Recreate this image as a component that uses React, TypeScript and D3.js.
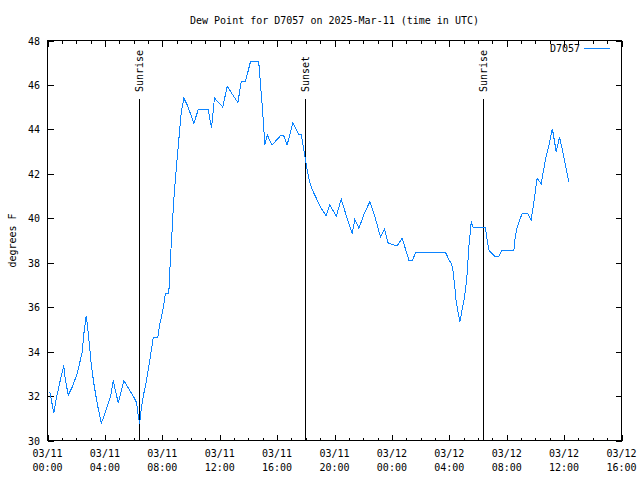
import React from "react";
import * as d3 from "d3";

// minutes since 2025-03-11 00:00 UTC
const minutesSinceStart = [
  10, 15, 26, 38, 50, 68, 75, 87, 103, 124, 145, 152, 162, 173, 183, 194, 208, 225,
  243, 263, 275, 284, 296, 305, 319, 336, 361, 372, 378, 385, 392, 403, 414, 424,
  434, 442, 461, 470, 482, 493, 507, 514, 521, 528, 538, 549, 559, 570, 584, 612,
  630, 672, 686, 698, 733, 751, 796, 810, 828, 849, 883, 898, 909, 919, 928, 939,
  974, 988, 1002, 1026, 1051, 1061, 1072, 1083, 1094, 1107, 1121, 1141, 1165, 1180,
  1194, 1208, 1228, 1246, 1274, 1285, 1302, 1325, 1348, 1367, 1392, 1409, 1423, 1448,
  1462, 1483, 1511, 1526, 1540, 1664, 1678, 1690, 1696, 1703, 1709, 1724, 1741, 1752,
  1763, 1772, 1780, 1831, 1838, 1847, 1873, 1887, 1901, 1950, 1955, 1964, 1985, 2008,
  2022, 2033, 2047, 2064, 2082, 2100, 2111, 2127, 2141, 2156, 2179,
];

const dewPointF = [
  32.17, 31.9, 31.23, 31.95, 32.55, 33.37, 32.7, 32.05, 32.4, 33.0, 33.97, 34.8, 35.62,
  34.57, 33.4, 32.55, 31.65, 30.78, 31.3, 31.95, 32.7, 32.25, 31.68, 32.1, 32.7, 32.4,
  31.95, 31.72, 31.23, 30.75, 31.43, 32.13, 32.7, 33.37, 34.05, 34.64, 34.64, 35.25,
  35.86, 36.6, 36.6, 38.2, 39.47, 40.83, 42.18, 43.53, 44.73, 45.41, 45.11, 44.28,
  44.88, 44.88, 44.06, 45.41, 45.0, 45.94, 45.21, 46.13, 46.16, 47.06, 47.06, 45.03,
  43.3, 43.76, 43.53, 43.3, 43.71, 43.71, 43.3, 44.31, 43.76, 43.76, 43.08, 42.33,
  41.73, 41.28, 40.97, 40.52, 40.1, 40.6, 40.35, 40.1, 40.86, 40.23, 39.3, 39.95,
  39.55, 40.23, 40.75, 40.15, 39.17, 39.5, 38.9, 38.8, 38.77, 39.1, 38.12, 38.12,
  38.47, 38.47, 38.15, 37.93, 37.6, 36.9, 36.24, 35.34, 36.3, 37.14, 38.87, 39.85,
  39.58, 39.58, 39.02, 38.54, 38.27, 38.27, 38.57, 38.57, 39.11, 39.62, 40.23, 40.23,
  39.92, 40.68, 41.8, 41.55, 42.63, 43.45, 44.03, 43.0, 43.65, 42.93, 41.65,
];

const sunEventMinutes = [382, 1075, 1821];
const sunEventLabels = ["Sunrise", "Sunset", "Sunrise"];

const xTickHours = [0, 4, 8, 12, 16, 20, 24, 28, 32, 36, 40];
const xTickDates = ["03/11", "03/11", "03/11", "03/11", "03/11", "03/11", "03/12", "03/12", "03/12", "03/12", "03/12"];
const xTickTimes = ["00:00", "04:00", "08:00", "12:00", "16:00", "20:00", "00:00", "04:00", "08:00", "12:00", "16:00"];
const yTicks = [30, 32, 34, 36, 38, 40, 42, 44, 46, 48];

const TITLE = "Dew Point for D7057 on 2025-Mar-11 (time in UTC)";
const SERIES_NAME = "D7057";
const Y_LABEL = "degrees F";

export default function App() {
  const W = 640, H = 480;
  const L = 47.5, R = 621.5, T = 40.5, B = 440.5;
  const font = "'DejaVu Sans Mono', 'Liberation Mono', monospace";
  const color = "#0c84ff";

  const x = d3.scaleLinear().domain([0, 40 * 60]).range([L, R]);
  const y = d3.scaleLinear().domain([30, 48]).range([B, T]);

  const line = d3
    .line<number>()
    .x((_, i) => x(minutesSinceStart[i]))
    .y((d) => y(d));

  const minorHours = d3.range(0, 41);

  return (
    <svg
      width={W}
      height={H}
      style={{ position: "absolute", left: 0, top: 0, background: "#fff" }}
      fontFamily={font}
      fontSize={10}
    >
      <rect x={0} y={0} width={W} height={H} fill="#fff" />
      <text x={(L + R) / 2} y={24} textAnchor="middle" fill="#000">{TITLE}</text>
      <text
        transform={`translate(13,${(T + B) / 2}) rotate(-90)`}
        textAnchor="middle"
        dominantBaseline="middle"
        fill="#000"
      >
        {Y_LABEL}
      </text>

      {/* ticks */}
      <g stroke="#000" strokeWidth={1} shapeRendering="crispEdges">
        {minorHours.map((h) => {
          const xx = Math.round(x(h * 60)) + 0.5;
          const len = h % 4 === 0 ? 6 : 3;
          return (
            <g key={"mx" + h}>
              <line x1={xx} x2={xx} y1={B} y2={B - len} />
              <line x1={xx} x2={xx} y1={T} y2={T + len} />
            </g>
          );
        })}
        {yTicks.map((v) => {
          const yy = Math.round(y(v)) + 0.5;
          return (
            <g key={"yt" + v}>
              <line x1={L} x2={L + 6} y1={yy} y2={yy} />
              <line x1={R} x2={R - 6} y1={yy} y2={yy} />
            </g>
          );
        })}
      </g>

      {yTicks.map((v) => (
        <text key={"yl" + v} x={40} y={y(v) + 4} textAnchor="end" fill="#000">
          {v}
        </text>
      ))}
      {xTickHours.map((h, i) => (
        <g key={"xl" + h}>
          <text x={x(h * 60)} y={457} textAnchor="middle" fill="#000">{xTickDates[i]}</text>
          <text x={x(h * 60)} y={471} textAnchor="middle" fill="#000">{xTickTimes[i]}</text>
        </g>
      ))}

      {/* sun events */}
      {sunEventMinutes.map((m, i) => {
        const xx = Math.round(x(m)) + 0.5;
        return (
          <g key={"sun" + i}>
            <line x1={xx} x2={xx} y1={99} y2={B} stroke="#000" strokeWidth={1} shapeRendering="crispEdges" />
            <text
              transform={`translate(${xx},92) rotate(-90)`}
              textAnchor="start"
              dominantBaseline="middle"
              fill="#000"
            >
              {sunEventLabels[i]}
            </text>
          </g>
        );
      })}

      <path d={line(dewPointF) || ""} fill="none" stroke={color} strokeWidth={1} shapeRendering="crispEdges" />

      {/* legend */}
      <text x={580} y={52} textAnchor="end" fill="#000">{SERIES_NAME}</text>
      <line x1={584} x2={610} y1={48.5} y2={48.5} stroke={color} strokeWidth={1} />

      <rect x={L} y={T} width={R - L} height={B - T} fill="none" stroke="#000" strokeWidth={1} shapeRendering="crispEdges" />
    </svg>
  );
}
